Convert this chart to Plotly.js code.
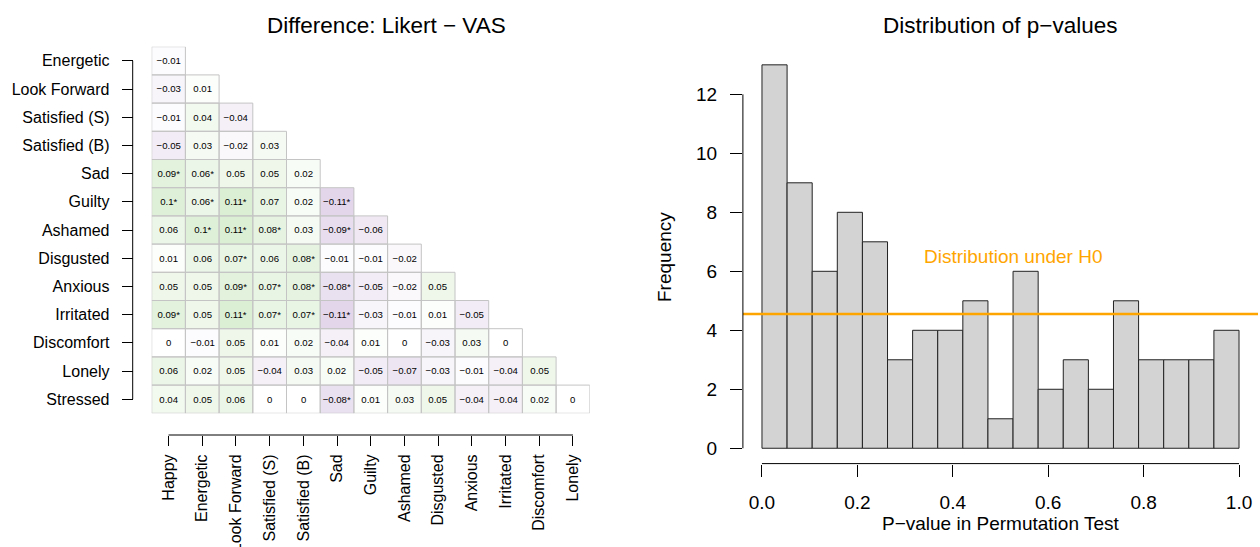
<!DOCTYPE html>
<html>
<head>
<meta charset="utf-8">
<script src="https://cdn.plot.ly/plotly-3.0.1.min.js"></script>
<style>html,body{margin:0;padding:0;background:#fff;}#chart{width:1260px;height:547px;}</style>
</head>
<body>
<div id="chart"></div>
<script>
// ---------- data ----------
const rowLabels = ['Energetic','Look Forward','Satisfied (S)','Satisfied (B)','Sad','Guilty','Ashamed','Disgusted','Anxious','Irritated','Discomfort','Lonely','Stressed'];
const colLabels = ['Happy','Energetic','Look Forward','Satisfied (S)','Satisfied (B)','Sad','Guilty','Ashamed','Disgusted','Anxious','Irritated','Discomfort','Lonely'];
const diffValues = [
  [-0.01],
  [-0.03, 0.01],
  [-0.01, 0.04, -0.04],
  [-0.05, 0.03, -0.02, 0.03],
  [0.09, 0.06, 0.05, 0.05, 0.02],
  [0.1, 0.06, 0.11, 0.07, 0.02, -0.11],
  [0.06, 0.1, 0.11, 0.08, 0.03, -0.09, -0.06],
  [0.01, 0.06, 0.07, 0.06, 0.08, -0.01, -0.01, -0.02],
  [0.05, 0.05, 0.09, 0.07, 0.08, -0.08, -0.05, -0.02, 0.05],
  [0.09, 0.05, 0.11, 0.07, 0.07, -0.11, -0.03, -0.01, 0.01, -0.05],
  [0, -0.01, 0.05, 0.01, 0.02, -0.04, 0.01, 0, -0.03, 0.03, 0],
  [0.06, 0.02, 0.05, -0.04, 0.03, 0.02, -0.05, -0.07, -0.03, -0.01, -0.04, 0.05],
  [0.04, 0.05, 0.06, 0, 0, -0.08, 0.01, 0.03, 0.05, -0.04, -0.04, 0.02, 0]
];
const sigFlags = [
  [0],
  [0,0],
  [0,0,0],
  [0,0,0,0],
  [1,1,0,0,0],
  [1,1,1,0,0,1],
  [0,1,1,1,0,1,0],
  [0,0,1,0,1,0,0,0],
  [0,0,1,1,1,1,0,0,0],
  [1,0,1,1,1,1,0,0,0,0],
  [0,0,0,0,0,0,0,0,0,0,0],
  [0,0,0,0,0,0,0,0,0,0,0,0],
  [0,0,0,0,0,1,0,0,0,0,0,0,0]
];
const histCounts = [13, 9, 6, 8, 7, 3, 4, 4, 5, 1, 6, 2, 3, 2, 5, 3, 3, 3, 4];
const histRange = [0, 1];
const h0Level = 4.55;
const histXTicks = [0, 0.2, 0.4, 0.6, 0.8, 1.0];
const histYTicks = [0, 2, 4, 6, 8, 10, 12];

// ---------- build ----------
const FONT = '"Liberation Sans", Arial, Helvetica, sans-serif';
const W = 1260, H = 547;
const px = v => v / W;
const py = v => 1 - v / H;

const nR = rowLabels.length, nC = colLabels.length;
const z = [], txt = [];
const shapes = [];
for (let i = 0; i < nR; i++) {
  const zr = [], tr = [];
  for (let j = 0; j < nC; j++) {
    if (j < diffValues[i].length) {
      const v = diffValues[i][j];
      zr.push(v);
      tr.push(String(v).replace('-', '\u2212') + (sigFlags[i][j] ? '*' : ''));
      shapes.push({type:'rect', xref:'x', yref:'y', x0:j-0.5, x1:j+0.5, y0:i-0.5, y1:i+0.5,
        line:{color:'#c4c4c4', width:1}, fillcolor:'rgba(0,0,0,0)', layer:'above'});
    } else { zr.push(null); tr.push(''); }
  }
  z.push(zr); txt.push(tr);
}

const heat = {
  type:'heatmap', x:colLabels.map((_, j) => j), y:rowLabels.map((_, i) => i), z:z,
  text: txt, texttemplate:'%{text}', textfont:{family:FONT, size:9.6, color:'#000'},
  colorscale:[[0,'rgb(224,210,233)'],[0.5,'#ffffff'],[1,'rgb(216,237,208)']],
  zmin:-0.12, zmax:0.12, showscale:false, hoverinfo:'skip', xaxis:'x', yaxis:'y'
};

const bw = (histRange[1] - histRange[0]) / histCounts.length;
const bars = {
  type:'bar', x: histCounts.map((_, i) => histRange[0] + (i + 0.5) * bw), y: histCounts,
  width: bw, marker:{color:'#d3d3d3', line:{color:'#222', width:1}},
  xaxis:'x2', yaxis:'y2', hoverinfo:'skip'
};
const h0 = {
  type:'scatter', mode:'lines', x:[-0.04, 1.04], y:[h0Level, h0Level],
  line:{color:'#ffa500', width:2.5}, xaxis:'x2', yaxis:'y2', hoverinfo:'skip'
};

// axis lines (R style: from first to last tick)
const heatXPos = py(435), heatYPos = px(132.7);
shapes.push({type:'line', xref:'x', yref:'paper', x0:0, x1:nC-1, y0:heatXPos, y1:heatXPos, line:{color:'#000', width:1}});
shapes.push({type:'line', xref:'paper', yref:'y', x0:heatYPos, x1:heatYPos, y0:0, y1:nR-1, line:{color:'#000', width:1}});
const hx0 = py(463.6);
shapes.push({type:'line', xref:'x2', yref:'paper', x0:histXTicks[0], x1:histXTicks[histXTicks.length-1], y0:hx0, y1:hx0, line:{color:'#000', width:1}});
shapes.push({type:'line', xref:'paper', yref:'y2', x0:px(742.9), x1:px(742.9), y0:histYTicks[0], y1:histYTicks[histYTicks.length-1], line:{color:'#000', width:1}});

const layout = {
  width:W, height:H, margin:{l:0, r:0, t:0, b:0}, showlegend:false,
  paper_bgcolor:'#fff', plot_bgcolor:'rgba(0,0,0,0)',
  font:{family:FONT, color:'#000'},
  xaxis:{domain:[px(151.7), px(589.8)], range:[-0.5, nC-0.5], anchor:'free', position:heatXPos,
    tickmode:'array', tickvals:colLabels.map((_, j) => j), ticktext:colLabels, tickangle:-90,
    ticks:'outside', ticklen:10, tickcolor:'#000', showline:false, showgrid:false, zeroline:false,
    tickfont:{size:16, family:FONT}, ticklabelstandoff:2},
  yaxis:{domain:[py(413.3), py(46.7)], range:[nR-0.5, -0.5], anchor:'free', position:heatYPos,
    tickmode:'array', tickvals:rowLabels.map((_, i) => i), ticktext:rowLabels,
    ticks:'outside', ticklen:11, tickcolor:'#000', showline:false, showgrid:false, zeroline:false,
    tickfont:{size:16, family:FONT}, ticklabelstandoff:9},
  xaxis2:{domain:[px(742.9), px(1258.1)], range:[-0.04, 1.04], anchor:'y2',
    tickmode:'array', tickvals:histXTicks, ticktext:histXTicks.map(v => v.toFixed(1)),
    ticks:'outside', ticklen:12, tickcolor:'#000', showline:false, showgrid:false, zeroline:false,
    tickfont:{size:19, family:FONT}, ticklabelstandoff:10},
  yaxis2:{domain:[py(463.6), py(49.5)], range:[-0.52, 13.52], anchor:'x2',
    tickmode:'array', tickvals:histYTicks, ticktext:histYTicks.map(String),
    ticks:'outside', ticklen:12, tickcolor:'#000', showline:false, showgrid:false, zeroline:false,
    tickfont:{size:19, family:FONT}, ticklabelstandoff:9},
  shapes: shapes,
  annotations:[
    {text:'Difference: Likert \u2212 VAS', xref:'paper', yref:'paper', x:px(386.7), y:py(26), xanchor:'center', yanchor:'middle', showarrow:false, font:{size:22.5, family:FONT}},
    {text:'Distribution of p\u2212values', xref:'paper', yref:'paper', x:px(1000), y:py(25), xanchor:'center', yanchor:'middle', showarrow:false, font:{size:22.5, family:FONT}},
    {text:'Frequency', xref:'paper', yref:'paper', x:px(664), y:py(257), xanchor:'center', yanchor:'middle', textangle:-90, showarrow:false, font:{size:19, family:FONT}},
    {text:'P\u2212value in Permutation Test', xref:'paper', yref:'paper', x:px(1000.5), y:py(523), xanchor:'center', yanchor:'middle', showarrow:false, font:{size:19, family:FONT}},
    {text:'Distribution under H0', xref:'x2', yref:'y2', x:0.526, y:6.5, xanchor:'center', yanchor:'middle', showarrow:false, font:{size:19, family:FONT, color:'#ffa500'}}
  ]
};

Plotly.newPlot('chart', [heat, bars, h0], layout, {displayModeBar:false, staticPlot:true});
</script>
</body>
</html>
